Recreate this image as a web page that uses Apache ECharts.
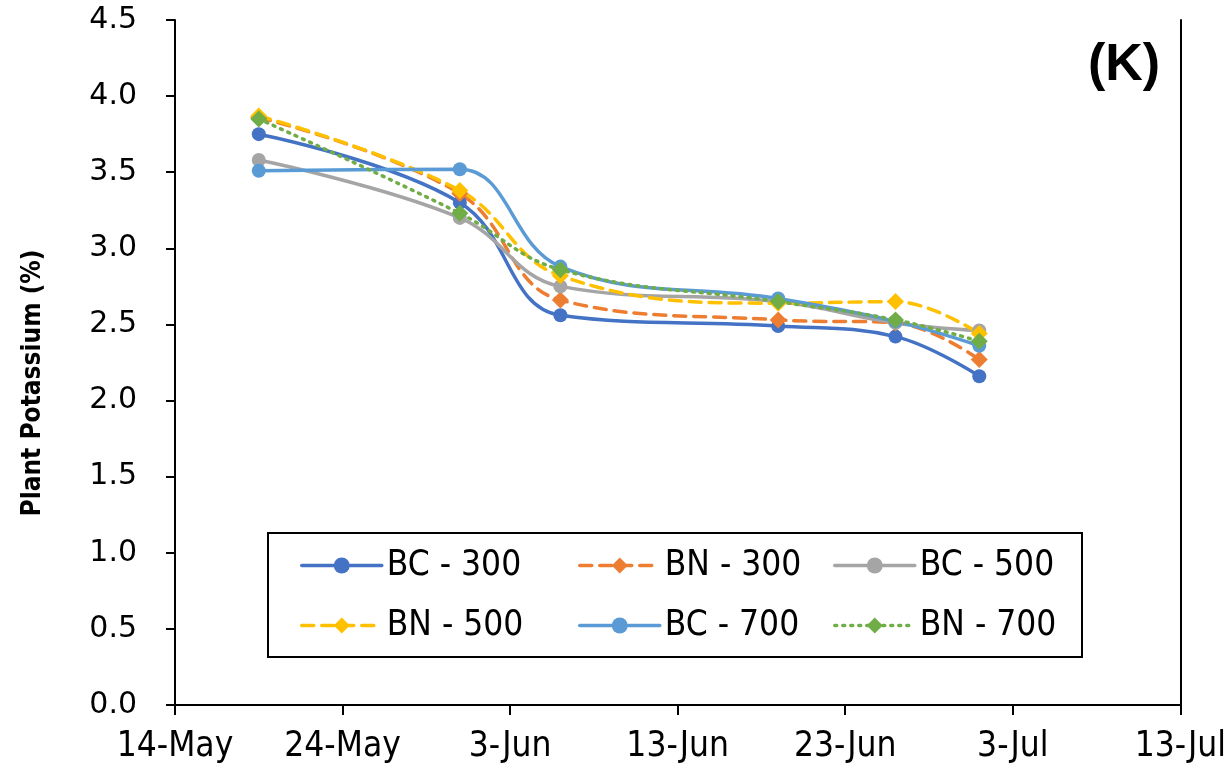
<!DOCTYPE html>
<html>
<head>
<meta charset="utf-8">
<script src="https://cdn.jsdelivr.net/npm/echarts@6/dist/echarts.min.js"></script>
<style>
  html, body { margin: 0; padding: 0; background: #ffffff; }
  #chart { width: 1229px; height: 778px; }
</style>
</head>
<body>
<div id="chart"></div>
<script>
// Sampling dates and plant potassium (%) per treatment
const sampleDates = ['2021-05-19', '2021-05-31', '2021-06-06', '2021-06-19', '2021-06-26', '2021-07-01'];
const bc300 = [3.75, 3.30, 2.56, 2.49, 2.42, 2.16];
const bn300 = [3.86, 3.36, 2.66, 2.53, 2.51, 2.27];
const bc500 = [3.58, 3.20, 2.75, 2.65, 2.51, 2.46];
const bn500 = [3.87, 3.38, 2.82, 2.64, 2.65, 2.44];
const bc700 = [3.51, 3.52, 2.88, 2.67, 2.52, 2.36];
const bn700 = [3.85, 3.23, 2.86, 2.65, 2.53, 2.39];

const seriesNames = ['BC - 300', 'BN - 300', 'BC - 500', 'BN - 500', 'BC - 700', 'BN - 700'];
const yTicks = ['0.0', '0.5', '1.0', '1.5', '2.0', '2.5', '3.0', '3.5', '4.0', '4.5'];
const yTitle = 'Plant Potassium (%)';
const axisStart = '2021-05-14';   // x axis runs 60 days from here, ticks every 10 days
const months = ['Jan','Feb','Mar','Apr','May','Jun','Jul','Aug','Sep','Oct','Nov','Dec'];

function toUTC(s) { const p = s.split('-').map(Number); return Date.UTC(p[0], p[1] - 1, p[2]); }
const t0 = toUTC(axisStart);
const dayOffset = s => (toUTC(s) - t0) / 86400000;
function dayLabel(v) {
  const d = new Date(t0 + v * 86400000);
  return d.getUTCDate() + '-' + months[d.getUTCMonth()];
}
const pairs = vals => sampleDates.map((s, i) => [dayOffset(s), vals[i]]);

const narrow = "'Liberation Sans Narrow', 'DejaVu Sans Condensed', sans-serif";

const styles = [
  { color: '#4472C4', symbol: 'circle',  size: 14, type: 'solid' },
  { color: '#ED7D31', symbol: 'diamond', size: 17, type: [12, 8] },
  { color: '#A5A5A5', symbol: 'circle',  size: 14, type: 'solid' },
  { color: '#FFC000', symbol: 'diamond', size: 17, type: [12, 8] },
  { color: '#5B9BD5', symbol: 'circle',  size: 14, type: 'solid' },
  { color: '#70AD47', symbol: 'diamond', size: 17, type: [2, 6] }
];
const values = [bc300, bn300, bc500, bn500, bc700, bn700];

const series = seriesNames.map((name, i) => ({
  name: name,
  type: 'line',
  data: pairs(values[i]),
  smooth: 0.4,
  symbol: styles[i].symbol,
  symbolSize: styles[i].size,
  itemStyle: { color: styles[i].color },
  lineStyle: { color: styles[i].color, width: 3.5, type: styles[i].type, cap: 'round' },
  emphasis: { disabled: true },
  animation: false
}));

// legend entries laid out in a 3 x 2 block
const legendPos = [
  [300, 548], [578, 548], [833, 548],
  [300, 608], [578, 608], [833, 608]
];
const legends = seriesNames.map((name, i) => ({
  data: [name],
  left: legendPos[i][0],
  top: legendPos[i][1],
  padding: 0,
  itemWidth: 80,
  itemHeight: 20,
  selectedMode: false,
  lineStyle: { width: 3.5 },
  textStyle: { fontFamily: narrow, fontSize: 35, color: '#000' }
}));

const chart = echarts.init(document.getElementById('chart'), null, { renderer: 'canvas' });
chart.setOption({
  backgroundColor: '#ffffff',
  animation: false,
  grid: { left: 175, right: 46, top: 20, bottom: 73, containLabel: false },
  legend: legends,
  xAxis: {
    type: 'value',
    min: 0, max: 60, interval: 10,
    axisLine: { lineStyle: { color: '#000', width: 2 } },
    axisTick: { show: true, inside: false, length: 10, lineStyle: { color: '#000', width: 2 } },
    splitLine: { show: false },
    axisLabel: { formatter: dayLabel, margin: 24, fontFamily: narrow, fontSize: 35, color: '#000' }
  },
  yAxis: [
    {
      type: 'value',
      min: 0, max: 4.5, interval: 0.5,
      axisLine: { show: true, lineStyle: { color: '#000', width: 2 } },
      axisTick: { show: true, inside: false, length: 9, lineStyle: { color: '#000', width: 2 } },
      splitLine: { show: false },
      axisLabel: {
        formatter: v => yTicks[Math.round(v / 0.5)],
        margin: 38, fontFamily: 'DejaVu Sans', fontSize: 30, color: '#000'
      }
    },
    {
      type: 'value',
      position: 'right',
      min: 0, max: 4.5, interval: 0.5,
      axisLine: { show: true, lineStyle: { color: '#000', width: 2 } },
      axisTick: { show: false },
      axisLabel: { show: false },
      splitLine: { show: false }
    }
  ],
  graphic: [
    {
      type: 'rect',
      shape: { x: 268, y: 533, width: 814, height: 124 },
      style: { fill: 'rgba(0,0,0,0)', stroke: '#000', lineWidth: 2 },
      silent: true
    },
    {
      type: 'text',
      x: 33, y: 383,
      rotation: Math.PI / 2,
      style: {
        text: yTitle, fontFamily: narrow, fontWeight: 'bold', fontSize: 26, fill: '#000',
        align: 'center', verticalAlign: 'middle'
      },
      silent: true
    },
    {
      type: 'text',
      left: 1088, top: 40,
      style: { text: '(K)', fontFamily: "'Liberation Sans', Arial, sans-serif", fontWeight: 'bold', fontSize: 52, fill: '#000' },
      silent: true
    }
  ],
  series: series
});
</script>
</body>
</html>
